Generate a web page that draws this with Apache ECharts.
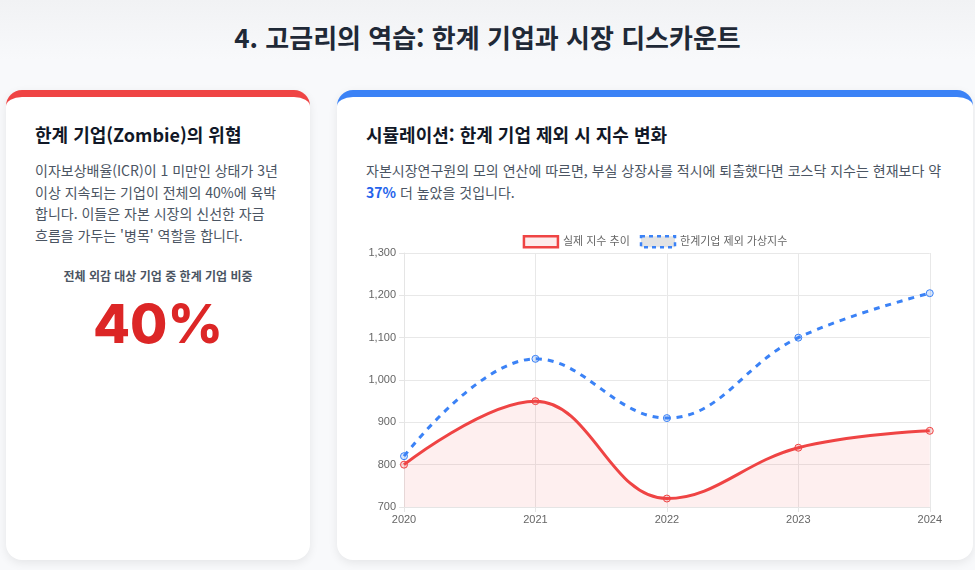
<!DOCTYPE html>
<html lang="ko">
<head>
    <meta charset="UTF-8">
    <title>고금리의 역습</title>
    <script src="https://cdn.jsdelivr.net/npm/echarts@6/dist/echarts.min.js"></script>
    <style type="text/css">
        body {
            font-family: 'Noto Sans CJK KR', 'Noto Sans', sans-serif;
            background: linear-gradient(#f1f2f4, #f8f9fb 60px);
            color: #374151;
            margin: 0;
            width: 975px;
            height: 570px;
            overflow: hidden;
            position: relative;
        }

        h1 {
            position: absolute;
            top: 18px;
            left: 0;
            width: 975px;
            margin: 0;
            text-align: center;
            font-size: 26px;
            font-weight: 700;
            color: #1f2937;
        }

        .card {
            position: absolute;
            top: 90px;
            height: 470px;
            background: #fff;
            border-radius: 16px;
            box-shadow: 0 3px 10px rgba(0, 0, 0, 0.08);
            box-sizing: border-box;
            overflow: hidden;
        }

        .card.red { left: 6px; width: 304px; border-top: 7px solid #ef4444; }
        .card.blue { left: 337px; width: 636px; border-top: 7px solid #3b82f6; }

        h3 {
            margin: 0;
            font-size: 18px;
            font-weight: 700;
            color: #111827;
            position: absolute;
            top: 24px;
            left: 29px;
        }

        .desc {
            position: absolute;
            left: 29px;
            top: 63px;
            margin: 0;
            font-size: 14px;
            line-height: 21.7px;
            color: #4b5563;
        }

        .red .desc { width: 265px; white-space: nowrap; }
        .blue .desc { width: 590px; }

        .sub {
            position: absolute;
            top: 170px;
            left: 0;
            width: 100%;
            text-align: center;
            font-size: 12px;
            font-weight: 700;
            color: #4b5563;
        }

        .big {
            position: absolute;
            top: 194px;
            left: 0;
            width: 100%;
            text-align: center;
            font-family: Inter, 'Noto Sans', sans-serif;
            font-size: 54px;
            font-weight: 800;
            color: #dc2626;
            line-height: 66px;
        }

        .hl { color: #2563eb; font-weight: 700; }

        #chart {
            position: absolute;
            left: 28px;
            top: 128px;
            width: 580px;
            height: 305px;
        }
    </style>
</head>
<body>
<h1>4. 고금리의 역습: 한계 기업과 시장 디스카운트</h1>

<div class="card red">
    <h3>한계 기업(Zombie)의 위협</h3>
    <p class="desc">이자보상배율(ICR)이 1 미만인 상태가 3년<br>이상 지속되는 기업이 전체의 40%에 육박<br>합니다. 이들은 자본 시장의 신선한 자금<br>흐름을 가두는 '병목' 역할을 합니다.</p>
    <div class="sub">전체 외감 대상 기업 중 한계 기업 비중</div>
    <div class="big">40%</div>
</div>

<div class="card blue">
    <h3>시뮬레이션: 한계 기업 제외 시 지수 변화</h3>
    <p class="desc">자본시장연구원의 모의 연산에 따르면, 부실 상장사를 적시에 퇴출했다면 코스닥 지수는 현재보다 약 <span class="hl">37%</span> 더 높았을 것입니다.</p>
    <div id="chart"></div>
</div>

<script>
    // 연도
    var years = ['2020', '2021', '2022', '2023', '2024'];
    // 실제 지수 추이
    var actualIndex = [800, 950, 720, 840, 880];
    // 한계기업 제외 가상지수
    var virtualIndex = [820, 1050, 910, 1100, 1205];
    var seriesNames = ['실제 지수 추이', '한계기업 제외 가상지수'];

    var chart = echarts.init(document.getElementById('chart'));
    var labelFont = 'Liberation Sans, Arial, Noto Sans CJK KR, sans-serif';

    chart.setOption({
        animation: false,
        textStyle: { fontFamily: labelFont },
        legend: {
            top: 5,
            left: 'center',
            icon: 'rect',
            itemWidth: 34,
            itemHeight: 11,
            itemGap: 10,
            textStyle: { color: '#666', fontSize: 11, fontFamily: labelFont },
            data: [
                {
                    name: seriesNames[0],
                    itemStyle: { color: 'rgba(239,68,68,0.1)', borderColor: '#ef4444', borderWidth: 2.5 }
                },
                {
                    name: seriesNames[1],
                    itemStyle: { color: 'rgba(200,200,200,0.5)', borderColor: '#3b82f6', borderWidth: 2.5, borderType: [4, 4] }
                }
            ]
        },
        grid: { left: 39, right: 15, top: 28, bottom: 23 },
        xAxis: {
            type: 'category',
            data: years,
            boundaryGap: false,
            axisLine: { lineStyle: { color: '#e5e5e5' } },
            axisTick: { show: true, length: 5, lineStyle: { color: '#e5e5e5' } },
            axisLabel: { color: '#666', fontSize: 11, margin: 7 },
            splitLine: { show: true, lineStyle: { color: '#e8e8e8' } }
        },
        yAxis: {
            type: 'value',
            min: 700,
            max: 1300,
            interval: 100,
            axisLine: { show: true, lineStyle: { color: '#e5e5e5' } },
            axisTick: { show: true, length: 5, lineStyle: { color: '#e5e5e5' } },
            axisLabel: {
                color: '#666',
                fontSize: 11,
                margin: 8,
                formatter: function (v) { return v.toLocaleString('en-US'); }
            },
            splitLine: { lineStyle: { color: '#e8e8e8' } }
        },
        series: [
            {
                name: seriesNames[0],
                type: 'line',
                data: actualIndex,
                smooth: 0.4,
                symbol: 'circle',
                symbolSize: 7,
                lineStyle: { color: '#ef4444', width: 3 },
                itemStyle: { color: 'rgba(239,68,68,0.2)', borderColor: '#ef4444', borderWidth: 1 },
                areaStyle: { color: 'rgba(239,68,68,0.12)', origin: 'start' },
                z: 3
            },
            {
                name: seriesNames[1],
                type: 'line',
                data: virtualIndex,
                smooth: 0.4,
                symbol: 'circle',
                symbolSize: 7,
                lineStyle: { color: '#3b82f6', width: 3, type: [6, 6] },
                itemStyle: { color: 'rgba(59,130,246,0.2)', borderColor: '#3b82f6', borderWidth: 1 },
                z: 2
            }
        ]
    });
</script>
</body>
</html>
